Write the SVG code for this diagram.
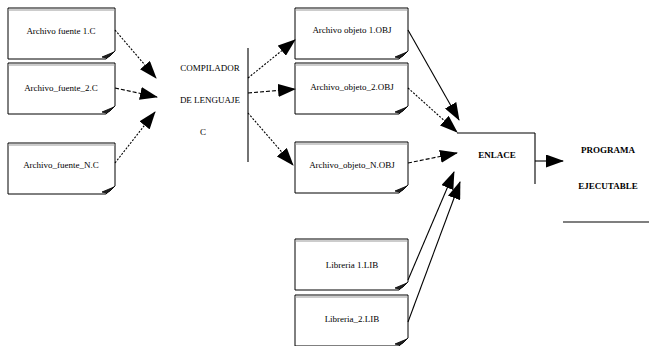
<svg xmlns="http://www.w3.org/2000/svg" width="649" height="346" viewBox="0 0 649 346">
<style>
.box{fill:#fff;stroke:#000;stroke-width:1}
.top{stroke:#999;stroke-width:1}
.curl{fill:#222;stroke:#000;stroke-width:0.8}
.t{font-family:"Liberation Serif","DejaVu Serif",serif;font-size:9px;fill:#000;text-anchor:middle}
.b{font-weight:bold}
.ln{stroke:#000;fill:none;stroke-width:1.1}
.dot{stroke-dasharray:2,1.5}
.dash{stroke-dasharray:4,2}
</style>
<defs>
<marker id="ah" markerWidth="18" markerHeight="13" refX="17" refY="6.5" orient="auto" markerUnits="userSpaceOnUse">
<path d="M0,0 L18,6.5 L0,13 Z" fill="#000"/>
</marker>
<g id="doc">
<path class="box" d="M0,0 H107 V43 L98,51 H0 Z"/>
<line class="top" x1="0" y1="2" x2="107" y2="2"/>
<path class="curl" d="M94,49 L106,44 L102,48 L98,50 Z"/>
</g>
<g id="doc2">
<path class="box" d="M0,0 H113 V43 L104,51 H0 Z"/>
<line class="top" x1="0" y1="2" x2="113" y2="2"/>
<path class="curl" d="M100,49 L112,44 L108,48 L104,50 Z"/>
</g>
</defs>
<rect width="649" height="346" fill="#fff"/>

<g id="src1"><use href="#doc" x="8" y="8"/><text class="t" x="61" y="34">Archivo fuente 1.C</text></g>
<g id="src2"><use href="#doc" x="8" y="63"/><text class="t" x="61" y="91">Archivo_fuente_2.C</text></g>
<g id="src3"><use href="#doc" x="8" y="143"/><text class="t" x="61" y="168">Archivo_fuente_N.C</text></g>

<g id="compilador">
<text class="t" x="210" y="71">COMPILADOR</text>
<text class="t" x="210" y="103">DE LENGUAJE</text>
<text class="t" x="203" y="135">C</text>
</g>

<g id="obj1"><use href="#doc2" x="295" y="8"/><text class="t" x="352" y="33">Archivo objeto 1.OBJ</text></g>
<g id="obj2"><use href="#doc2" x="295" y="63"/><text class="t" x="352" y="90">Archivo_objeto_2.OBJ</text></g>
<g id="objN"><use href="#doc2" x="295" y="142"/><text class="t" x="352" y="168">Archivo_objeto_N.OBJ</text></g>

<g id="lib1"><use href="#doc2" x="295" y="239"/><text class="t" x="352" y="268">Libreria 1.LIB</text></g>
<g id="lib2"><use href="#doc2" x="295" y="295"/><text class="t" x="352" y="322">Libreria_2.LIB</text></g>

<g id="enlace">
<text class="t b" x="497" y="158">ENLACE</text>
</g>

<g id="programa">
<text class="t b" x="608" y="153">PROGRAMA</text>
<text class="t b" x="608" y="189">EJECUTABLE</text>
</g>

<g id="connectors">
<line class="ln dot" x1="115" y1="30" x2="156" y2="78" marker-end="url(#ah)"/>
<line class="ln dash" x1="115" y1="88" x2="157" y2="97" marker-end="url(#ah)" stroke-width="1.6"/>
<line class="ln dot" x1="115" y1="163" x2="155" y2="112" marker-end="url(#ah)"/>
<line class="ln" x1="248" y1="48" x2="248" y2="162"/>
<line class="ln dot" x1="248" y1="78" x2="295" y2="40" marker-end="url(#ah)"/>
<line class="ln dash" x1="248" y1="93" x2="295" y2="89" marker-end="url(#ah)" stroke-width="1.6"/>
<line class="ln dot" x1="248" y1="113" x2="293" y2="165" marker-end="url(#ah)"/>
<line class="ln" x1="408" y1="30" x2="459" y2="120" marker-end="url(#ah)"/>
<line class="ln dot" x1="408" y1="88" x2="457" y2="132" marker-end="url(#ah)"/>
<line class="ln dash" x1="408" y1="163" x2="457" y2="153" marker-end="url(#ah)" stroke-width="1.4"/>
<line class="ln" x1="408" y1="280" x2="454" y2="172" marker-end="url(#ah)"/>
<line class="ln" x1="408" y1="322" x2="460" y2="182" marker-end="url(#ah)"/>
<line class="ln" x1="457" y1="133" x2="535" y2="133" stroke-width="1.4"/>
<line class="ln" x1="535" y1="133" x2="535" y2="184" stroke-width="1.4"/>
<line class="ln" x1="535" y1="161" x2="563" y2="161" stroke-width="2.2" marker-end="url(#ah)"/>
<line class="ln" x1="563" y1="222" x2="649" y2="222" stroke-width="2.2"/>
</g>
</svg>
